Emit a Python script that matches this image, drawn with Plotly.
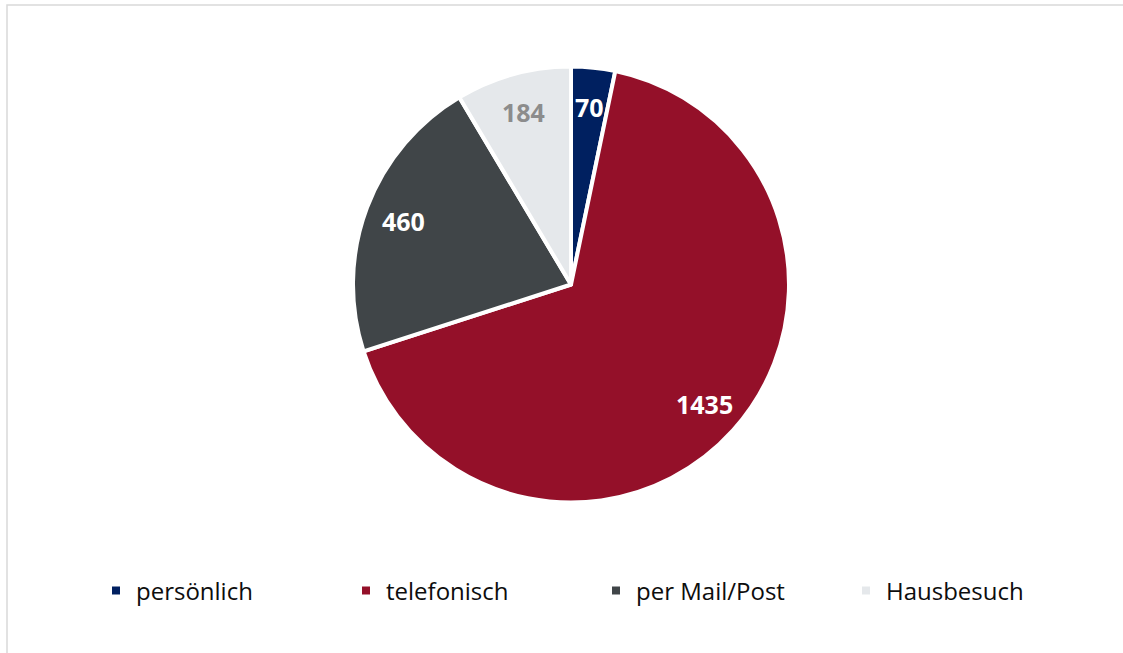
import math
import plotly.graph_objects as go

categories = ["persönlich", "telefonisch", "per Mail/Post", "Hausbesuch"]
values = [70, 1435, 460, 184]
colors = ["#002060", "#941029", "#404548", "#E5E8EB"]
label_colors = ["#FFFFFF", "#FFFFFF", "#FFFFFF", "#8C8C8C"]

W, H = 1123, 653
cx, cy, R = 571, 284.5, 218
dom_x = [(cx - R) / W, (cx + R) / W]
dom_y = [1 - (cy + R) / H, 1 - (cy - R) / H]

fig = go.Figure(go.Pie(
    labels=categories, values=values, sort=False, direction="clockwise", rotation=0,
    marker=dict(colors=colors, line=dict(color="white", width=4)),
    textinfo="none", hoverinfo="label+value",
    domain=dict(x=dom_x, y=dom_y),
))

total = sum(values)
cum = 0
annotations = []
for v, lc in zip(values, label_colors):
    f = (cum + v / 2) / total
    cum += v
    th = 2 * math.pi * f
    r = 0.82 * R
    px = cx + r * math.sin(th)
    py = cy - r * math.cos(th)
    annotations.append(dict(
        x=px / W, y=1 - py / H, xref="paper", yref="paper", text=f"<b>{v}</b>",
        showarrow=False, font=dict(size=25, color=lc, family="Open Sans"),
        xanchor="center", yanchor="middle",
    ))

fig.update_layout(
    width=W, height=H,
    margin=dict(l=0, r=0, t=0, b=0),
    paper_bgcolor="white", plot_bgcolor="white",
    font=dict(family="Open Sans", color="#0D0D0D"),
    annotations=annotations,
    showlegend=True,
    legend=dict(
        orientation="h", x=96 / W, xanchor="left", y=1 - 591 / H, yanchor="middle",
        font=dict(size=24, color="#0D0D0D", family="Open Sans"),
        entrywidth=205, entrywidthmode="pixels", traceorder="normal",
    ),
    shapes=[dict(type="rect", xref="paper", yref="paper", x0=7 / W, x1=1.05,
                 y0=-0.05, y1=1 - 5 / H, line=dict(color="#D9D9D9", width=1.5),
                 fillcolor="rgba(0,0,0,0)")],
)

fig.write_html("out.html", config={"displayModeBar": False},
               post_script="document.body.style.margin='0';document.body.style.overflow='hidden';")
